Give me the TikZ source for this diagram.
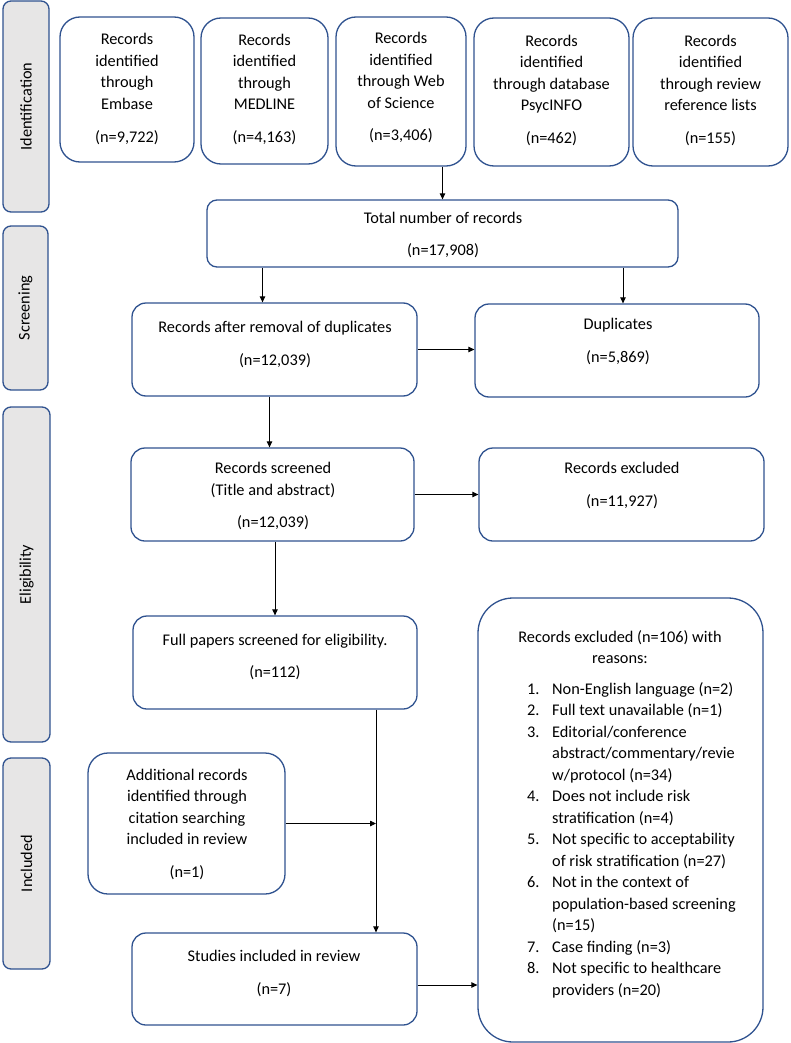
\documentclass[tikz,border=0pt]{standalone}
\usepackage{fontspec}
\setmainfont{Carlito}
\usetikzlibrary{arrows.meta}
\definecolor{boxblue}{RGB}{47,82,143}
\definecolor{sidegray}{RGB}{231,230,230}

\begin{document}
\begin{tikzpicture}[x=1pt, y=-1pt,
    font=\fontsize{16.3}{21.5}\selectfont,
    >={Triangle[length=6pt,width=5.5pt]},
    box/.style={draw=boxblue, line width=1.3pt, rounded corners=#1, inner sep=0},
    box/.default=14pt,
    side/.style={draw=boxblue, line width=1.3pt, fill=sidegray, rounded corners=8pt, rotate=90},
    txt/.style={align=center, inner sep=0},
    flow/.style={->, line width=0.8pt}]
    \useasboundingbox (0,0) rectangle (790,1043);

    % stage labels
    \node[side, minimum width=211pt, minimum height=46pt] (ident) at (26,106.5) {Identification};
    \node[side, minimum width=164pt, minimum height=45pt] (screen) at (25.5,308) {Screening};
    \node[side, minimum width=335pt, minimum height=47pt] (elig) at (26.5,574.5) {Eligibility};
    \node[side, minimum width=211pt, minimum height=47pt] (incl) at (26.5,863.5) {Included};

    % sources
    \node[box=20pt, minimum width=134pt, minimum height=145pt] (embase) at (127,89.5) {};
    \node[txt] (embase-t) at (127,89) {Records\\identified\\through\\Embase\\[11.5pt](n=9,722)};
    \node[box=20pt, minimum width=127pt, minimum height=146pt] (medline) at (264.5,91) {};
    \node[txt] (medline-t) at (264.5,89.5) {Records\\identified\\through\\MEDLINE\\[11.5pt](n=4,163)};
    \node[box=20pt, minimum width=130pt, minimum height=149pt] (wos) at (401,91.5) {};
    \node[txt] (wos-t) at (401,87.5) {Records\\identified\\through Web\\of Science\\[11pt](n=3,406)};
    \node[box=20pt, minimum width=155pt, minimum height=148pt] (psyc) at (551.5,92) {};
    \node[txt] (psyc-t) at (551.5,90.5) {Records\\identified\\through database\\PsycINFO\\[11.5pt](n=462)};
    \node[box=20pt, minimum width=155pt, minimum height=148pt] (revref) at (710.5,92) {};
    \node[txt] (revref-t) at (710.5,90.5) {Records\\identified\\through review\\reference lists\\[11.5pt](n=155)};

    % flow boxes
    \node[box=10pt, minimum width=471pt, minimum height=67pt] (total) at (442.5,233.5) {};
    \node[txt] (total-t) at (443,235) {Total number of records\\[10.5pt](n=17,908)};
    \node[box, minimum width=285pt, minimum height=93pt] (removal) at (274.5,349.5) {};
    \node[txt] (removal-t) at (275,344.5) {Records after removal of duplicates\\[11.5pt](n=12,039)};
    \node[box, minimum width=284pt, minimum height=93pt] (dup) at (617,350.5) {};
    \node[txt] (dup-t) at (618,341.5) {Duplicates\\[11.5pt](n=5,869)};
    \node[box, minimum width=283pt, minimum height=93pt] (screened) at (272.5,494.5) {};
    \node[txt] (screened-t) at (273,496) {Records screened\\(Title and abstract)\\[10.5pt](n=12,039)};
    \node[box, minimum width=285pt, minimum height=93pt] (excl) at (621.5,494.5) {};
    \node[txt] (excl-t) at (622,485.5) {Records excluded\\[11.5pt](n=11,927)};
    \node[box, minimum width=284pt, minimum height=93pt] (full) at (275,662.5) {};
    \node[txt] (full-t) at (275,657) {Full papers screened for eligibility.\\[10.5pt](n=112)};
    \node[box=20pt, minimum width=197pt, minimum height=141pt] (extra) at (186.5,823.5) {};
    \node[txt] (extra-t) at (187,824.5) {Additional records\\identified through\\citation searching\\included in review\\[11.5pt](n=1)};
    \node[box, minimum width=285pt, minimum height=92pt] (studies) at (274.5,979) {};
    \node[txt] (studies-t) at (274,973.5) {Studies included in review\\[11.5pt](n=7)};

    % exclusion reasons
    \node[box=35pt, minimum width=285pt, minimum height=444pt] (reasons) at (620.5,820) {};
    \node[txt] (reasons-t) at (620,647) {Records excluded (n=106) with\\reasons:};
    \node[inner sep=0, anchor=north west] (reasons-l) at (527,679) {%
      \begin{tabular}{@{}p{25pt}@{}l@{}}
        1. & Non-English language (n=2)\\
        2. & Full text unavailable (n=1)\\
        3. & Editorial/conference\\
           & abstract/commentary/revie\\
           & w/protocol (n=34)\\
        4. & Does not include risk\\
           & stratification (n=4)\\
        5. & Not specific to acceptability\\
           & of risk stratification (n=27)\\
        6. & Not in the context of\\
           & population-based screening\\
           & (n=15)\\
        7. & Case finding (n=3)\\
        8. & Not specific to healthcare\\
           & providers (n=20)
      \end{tabular}};

    % arrows
    \coordinate (join) at (376,823.5);
    \draw[flow] (wos.south -| total.north) -- (total.north);
    \draw[flow] ([xshift=-12pt]removal.north |- total.south) -- ([xshift=-12pt]removal.north);
    \draw[flow] ([xshift=6pt]dup.north |- total.south) -- ([xshift=6pt]dup.north);
    \draw[flow] (removal.east) -- (removal.east -| dup.west);
    \draw[flow] ([xshift=-5pt]removal.south) -- ([xshift=-5pt]removal.south |- screened.north);
    \draw[flow] (screened.east) -- (screened.east -| excl.west);
    \draw[flow] (screened.south -| full.north) -- (full.north);
    \draw[flow] (full.south -| join) -- (studies.north -| join);
    \draw[flow] (extra.east) -- (join);
    \draw[flow] ([yshift=-6pt]studies.east) -- ([yshift=-6pt]studies.east -| reasons.west);
\end{tikzpicture}
\end{document}
